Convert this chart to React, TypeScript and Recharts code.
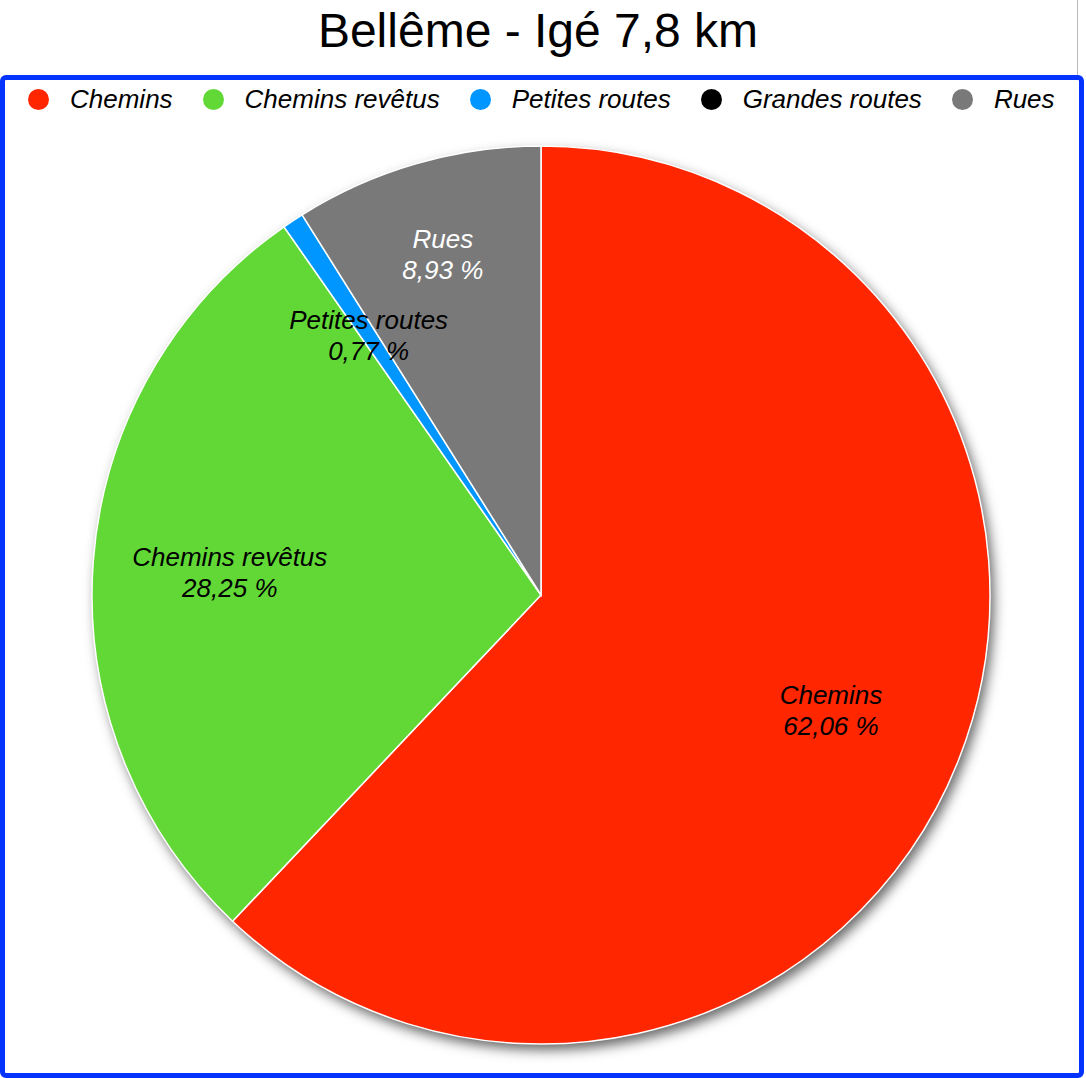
import React from "react";
import { PieChart, Pie, Cell, Legend } from "recharts";

// Données
const categories = ["Chemins", "Chemins revêtus", "Petites routes", "Grandes routes", "Rues"];
const percents = [62.06, 28.25, 0.77, 0, 8.93];
const colors = ["#FF2600", "#61D836", "#0096FF", "#000000", "#797979"];
const labelColors = ["#000", "#000", "#000", "#000", "#fff"];

const title = "Bellême - Igé 7,8 km";

const data = categories.map((name, i) => ({ name, value: percents[i] }));

const RADIAN = Math.PI / 180;
const FONT = "'Liberation Sans', Arial, Helvetica, sans-serif";

// l'étiquette "Rues" est poussée vers l'extérieur pour ne pas chevaucher "Petites routes"
const labelRadius = (name: string) => (name === "Rues" ? 0.79 : 0.695);

const renderLabel = (props: any) => {
  const { cx, cy, midAngle, outerRadius, index, value, name } = props;
  if (!value) return null;
  const r = outerRadius * labelRadius(name);
  const x = cx + r * Math.cos(-midAngle * RADIAN);
  const y = cy + r * Math.sin(-midAngle * RADIAN);
  const txt = value.toFixed(2).replace(".", ",") + " %";
  return (
    <text
      x={x}
      y={y}
      textAnchor="middle"
      fill={labelColors[index]}
      fontFamily={FONT}
      fontStyle="italic"
      fontSize={26}
    >
      <tspan x={x} dy={-6}>{name}</tspan>
      <tspan x={x} dy={31}>{txt}</tspan>
    </text>
  );
};

const renderLegend = () => (
  <div
    style={{
      display: "flex",
      alignItems: "center",
      whiteSpace: "nowrap",
      fontFamily: FONT,
      fontStyle: "italic",
      fontSize: 26,
      lineHeight: "30px",
    }}
  >
    {categories.map((c, i) => (
      <div key={c} style={{ display: "flex", alignItems: "center", flexShrink: 0, marginRight: 30 }}>
        <span style={{ width: 21, height: 21, borderRadius: "50%", background: colors[i], marginRight: 21, flexShrink: 0 }} />
        <span>{c}</span>
      </div>
    ))}
  </div>
);

export default function App() {
  return (
    <div style={{ position: "absolute", left: 0, top: 0, width: 1086, height: 1078, background: "#fff", overflow: "hidden" }}>
      <style>{`.pie-shadow { filter: blur(4px); }`}</style>
      <div
        style={{
          position: "absolute",
          top: 3,
          left: 0,
          width: 1076,
          textAlign: "center",
          fontFamily: FONT,
          fontSize: 48,
          color: "#000",
        }}
      >
        {title}
      </div>
      <div style={{ position: "absolute", left: 1077, top: 0, width: 1, height: 76, background: "#b8b8b8" }} />
      <div style={{ position: "absolute", left: 0, top: 0 }}>
        <PieChart width={1086} height={1078} margin={{ top: 0, right: 0, bottom: 0, left: 0 }}>
          <Legend
            content={renderLegend}
            wrapperStyle={{ position: "absolute", left: 28, top: 84, width: 1200 }}
          />
          {/* ombre portée */}
          <Pie
            data={data}
            dataKey="value"
            nameKey="name"
            cx={545}
            cy={601}
            outerRadius={449}
            startAngle={90}
            endAngle={-270}
            stroke="none"
            fill="rgba(0,0,0,0.6)"
            className="pie-shadow"
            label={false}
            labelLine={false}
            legendType="none"
            isAnimationActive={false}
          />
          <Pie
            data={data}
            dataKey="value"
            nameKey="name"
            cx={541}
            cy={595}
            outerRadius={449}
            startAngle={90}
            endAngle={-270}
            stroke="#fff"
            strokeWidth={1.5}
            label={renderLabel}
            labelLine={false}
            isAnimationActive={false}
          >
            {data.map((d, i) => (
              <Cell key={d.name} fill={colors[i]} />
            ))}
          </Pie>
        </PieChart>
      </div>
      {/* cadre bleu */}
      <div
        style={{
          position: "absolute",
          left: 0,
          top: 75,
          width: 1084,
          height: 1003,
          boxSizing: "border-box",
          border: "5px solid #0433FF",
          borderRadius: 6,
          pointerEvents: "none",
          zIndex: 2,
        }}
      />
    </div>
  );
}
